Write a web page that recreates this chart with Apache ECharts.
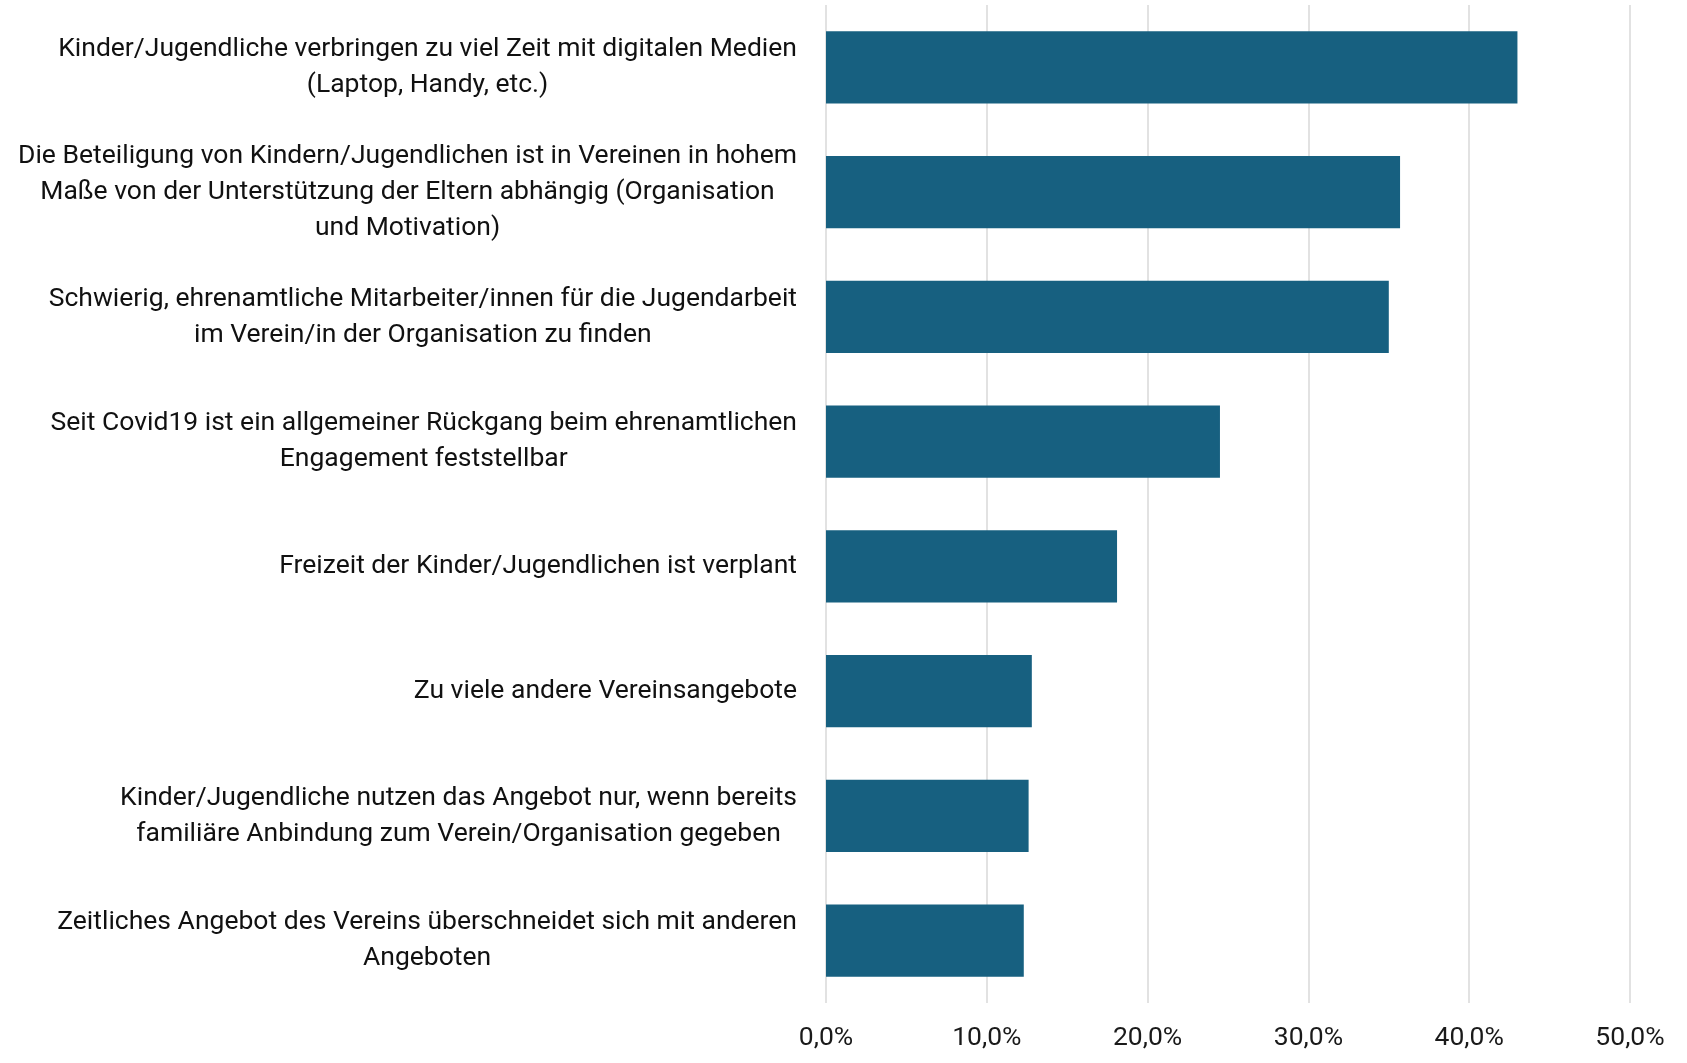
<!DOCTYPE html>
<html>
<head>
<meta charset="utf-8">
<script src="https://cdn.jsdelivr.net/npm/echarts@6/dist/echarts.min.js"></script>
<style>
  html, body { margin: 0; padding: 0; background: #fff; }
  #chart { width: 1687px; height: 1063px; }
</style>
</head>
<body>
<div id="chart"></div>
<script>
// Kategorien (von oben nach unten)
const categories = [
  "Kinder/Jugendliche verbringen zu viel Zeit mit digitalen Medien\n(Laptop, Handy, etc.)",
  "Die Beteiligung von Kindern/Jugendlichen ist in Vereinen in hohem\nMaße von der Unterstützung der Eltern abhängig (Organisation\nund Motivation)",
  "Schwierig, ehrenamtliche Mitarbeiter/innen für die Jugendarbeit\nim Verein/in der Organisation zu finden",
  "Seit Covid19 ist ein allgemeiner Rückgang beim ehrenamtlichen\nEngagement feststellbar",
  "Freizeit der Kinder/Jugendlichen ist verplant",
  "Zu viele andere Vereinsangebote",
  "Kinder/Jugendliche nutzen das Angebot nur, wenn bereits\nfamiliäre Anbindung zum Verein/Organisation gegeben",
  "Zeitliches Angebot des Vereins überschneidet sich mit anderen\nAngeboten"
];
// Anteile in Prozent
const values = [43.0, 35.7, 35.0, 24.5, 18.1, 12.8, 12.6, 12.3];
const xTicks = [0, 10, 20, 30, 40, 50];

let myEchart = echarts.init(document.getElementById("chart"));

let options = {
  animation: false,
  grid: { left: 826, right: 57, top: 5, bottom: 60 },
  xAxis: {
    type: "value",
    min: xTicks[0],
    max: xTicks[xTicks.length - 1],
    interval: 10,
    axisLine: { show: false },
    axisTick: { show: false },
    splitLine: { show: true, lineStyle: { color: "#d9d9d9", width: 1.5 } },
    axisLabel: {
      margin: 22,
      fontFamily: "Roboto",
      fontSize: 26.5,
      color: "#1a1a1a",
      formatter: (v) => v.toFixed(1).replace(".", ",") + "%"
    }
  },
  yAxis: {
    type: "category",
    inverse: true,
    data: categories,
    axisLine: { show: false },
    axisTick: { show: false },
    axisLabel: {
      margin: 29,
      fontFamily: "Roboto",
      fontSize: 26.5,
      lineHeight: 36,
      color: "#111",
      align: "right",
      interval: 0,
      // jede Zeile im Block zentrieren
      formatter: (v) => v.split("\n").map((l) => "{c|" + l + "}").join("\n"),
      rich: {
        c: { align: "center", fontFamily: "Roboto", fontSize: 26.5, lineHeight: 36, color: "#111" }
      }
    }
  },
  series: [
    {
      type: "bar",
      data: values,
      barCategoryGap: "42%",
      itemStyle: { color: "#176080" }
    }
  ]
};

myEchart.setOption(options);
</script>
</body>
</html>
